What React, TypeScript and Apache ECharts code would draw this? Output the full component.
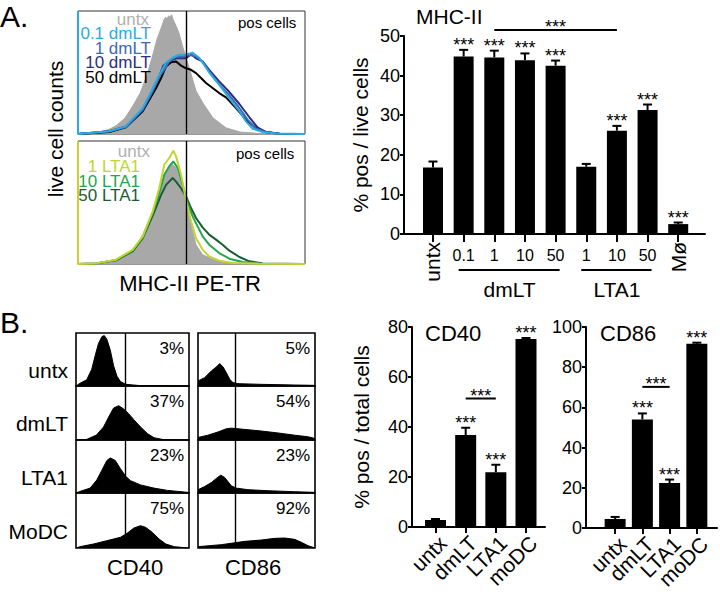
import React, { useEffect, useRef } from "react";
import * as echarts from "echarts";

const FONT = "'Liberation Sans', Arial, Helvetica, sans-serif";

// ===== Panel A: MHC-II PE-TR histograms (x: intensity 0-1000, y: relative count 0-100) =====
const gateMHC = 476;
const aUntxTop = [[0,0],[53,0.4],[97,1.6],[141,4.1],[172,7.3],[207,13],[242,23],[273,33],[304,48],[326,62],[348,77],[366,86],[379,93],[386,95],[392,93.5],[399,96],[405,95],[412,97],[419,93],[432,88],[445,82],[458,73],[476,62],[493,52],[520,35],[551,25],[595,13],[652,5],[714,1.6],[802,0.4],[1000,0]];
const a01dmLT = [[0,100],[0,0],[138,2.2],[211,6.2],[285,21],[329,37],[358,48],[388,58],[417,62],[446,64.5],[476,64.5],[505,66],[534,62],[578,50],[622,40],[667,29],[711,18.5],[740,10.3],[770,4.3],[814,1.6],[872,0.5],[1000,0]];
const a1dmLT = [[0,0],[138,2.2],[211,5.7],[285,19.8],[329,34.7],[358,46.9],[380,52.2],[402,59],[432,63.1],[461,63.1],[490,64.3],[520,63.1],[549,59],[578,50.7],[622,40.6],[667,31.4],[711,21],[747,11.7],[784,4.3],[828,1.4],[887,0.3],[1000,0]];
const a10dmLT = [[0,0],[138,2.2],[211,6.2],[285,19],[344,41.5],[366,50.7],[376,55.6],[402,59],[432,61.6],[476,61.6],[498,64.9],[520,61.6],[549,59],[578,52.2],[622,42.8],[667,34.1],[711,24.4],[755,13.6],[791,5.4],[828,1.6],[887,0.3],[1000,0]];
const a50dmLT = [[0,0],[138,1.6],[211,5.4],[285,18.4],[344,37.4],[366,45.5],[388,54.9],[410,58.4],[432,59],[454,55.6],[476,53.4],[498,52.2],[520,49.5],[542,45.5],[564,41.5],[593,37.4],[622,33.3],[652,29.8],[696,21],[740,11.7],[784,4.9],[828,1.6],[887,0.3],[1000,0]];
const aUntxBottom = [[0,0],[79,0.5],[167,2.7],[241,8.9],[285,23.9],[344,48.2],[373,67],[395,78],[410,82],[417,80.7],[432,78],[446,69.9],[476,52.2],[498,32],[520,15.7],[549,7.6],[608,2.7],[681,0.8],[800,0.3],[1000,0]];
const a1LTA1 = [[0,100],[0,0],[79,0.5],[167,3.5],[241,11.7],[285,22.5],[329,42.8],[358,61.6],[380,80.7],[402,86.2],[420,92.1],[432,87.5],[454,72.5],[476,52.2],[498,34.7],[520,21],[549,11.7],[578,6.2],[622,2.7],[681,0.8],[800,0.3],[1000,0]];
const a10LTA1 = [[0,0],[79,0.5],[167,3.3],[241,10.8],[285,21.7],[329,41.5],[358,57.7],[380,72.5],[402,79.3],[420,83.4],[439,78],[461,64.3],[483,49.5],[505,38.7],[527,30.6],[549,22.5],[578,15.7],[622,8.9],[667,4.3],[725,1.6],[800,0.3],[1000,0]];
const a50LTA1 = [[0,0],[79,0.5],[167,3],[241,10.3],[285,21],[329,39.4],[366,56.2],[388,64.3],[417,69.9],[432,67],[454,61.6],[476,54.9],[498,45.5],[520,37.4],[549,29.8],[578,23.9],[608,19.8],[637,15.7],[667,10.8],[711,5.7],[755,2.2],[814,0.5],[1000,0]];

const aTopLegend = ["untx", "0.1 dmLT", "1 dmLT", "10 dmLT", "50 dmLT"];
const aTopColors = ["#b1b1b1", "#29abe2", "#3e69b3", "#2b2e82", "#000000"];
const aBottomLegend = ["untx", "1 LTA1", "10 LTA1", "50 LTA1"];
const aBottomColors = ["#b1b1b1", "#c3d42e", "#26a64b", "#1a5c34"];

// ===== Panel A: MHC-II bar chart =====
const mhcLabels = ["untx", "0.1", "1", "10", "50", "1", "10", "50", "Mø"];
const mhcMean = [16.8, 44.8, 44.6, 43.9, 42.5, 17.0, 26.1, 31.3, 2.5];
const mhcErr = [1.5, 1.7, 1.7, 1.7, 1.3, 0.7, 1.2, 1.4, 0.4];
const mhcStars = [0, 1, 1, 1, 1, 0, 1, 1, 1];
const mhcGroupNames = ["dmLT", "LTA1"];
const mhcGroupFrom = [1, 5];
const mhcGroupTo = [4, 7];
const mhcBracket = [2, 6, 51.5];

// ===== Panel B: CD40 / CD86 histograms =====
const bRowNames = ["untx", "dmLT", "LTA1", "MoDC"];
const gateCD40 = 434;
const gateCD86 = 320;
const cd40Untx = [[0,0],[36,5.3],[95,12],[139,32],[170,58.7],[199,82],[229,95],[250,97],[273,90],[304,68.7],[333,38.7],[363,18.7],[393,8.7],[438,3.3],[571,0.7],[1000,0]];
const cd40DmLT = [[0,0],[95,1.2],[181,9.3],[244,24.7],[288,43],[333,60.5],[378,64.8],[422,58.6],[467,49.4],[512,38.3],[571,24.7],[631,12.3],[690,4.3],[780,0.5],[1000,0]];
const cd40LTA1 = [[0,0],[36,3.1],[125,9.4],[184,25],[229,43.8],[273,62.5],[304,67.5],[348,62.5],[393,46.9],[438,32.5],[482,23.8],[571,15.6],[690,9.4],[809,5],[958,1.9],[1000,1]];
const cd40MoDC = [[0,0],[36,2.5],[155,7.4],[273,13.6],[393,19.8],[452,27.2],[512,37],[571,41.4],[616,38.3],[675,29],[735,16.7],[795,7.4],[869,2.5],[988,0],[1000,0]];
const cd86Untx = [[0,9.7],[57,16.1],[114,29],[157,36.8],[185,43.2],[214,36.8],[242,25.8],[271,12.9],[299,6.5],[342,4.5],[541,3.2],[826,1.9],[983,1.3],[1000,1]];
const cd86DmLT = [[0,4.8],[85,9.1],[171,15.2],[242,21.2],[285,22.4],[342,21.2],[427,19.4],[541,17],[684,13.3],[826,9.1],[940,6.1],[1000,3]];
const cd86LTA1 = [[0,6.3],[57,12.5],[114,20],[157,28.1],[194,34.4],[228,30],[256,21.9],[285,13.8],[328,9.4],[427,6.3],[598,4.4],[826,2.5],[983,1.3],[1000,1]];
const cd86MoDC = [[0,2.5],[200,6.2],[399,12.3],[541,14.8],[655,17.9],[741,18.5],[826,16],[884,10.5],[940,4.3],[983,1.2],[1000,0.5]];
const cd40Pct = ["3%", "37%", "23%", "75%"];
const cd86Pct = ["5%", "54%", "23%", "92%"];

// ===== Panel B: CD40 / CD86 bar charts =====
const cdLabels = ["untx", "dmLT", "LTA1", "moDC"];
const cd40Mean = [2.8, 36.8, 21.9, 75.2];
const cd40Err = [0.4, 2.9, 3.0, 0.4];
const cd40Stars = [0, 1, 1, 1];
const cd40Bracket = [1, 2, 51.4];
const cd86Mean = [4.5, 54.0, 22.4, 91.7];
const cd86Err = [1.0, 3.0, 1.7, 0.5];
const cd86Stars = [0, 1, 1, 1];
const cd86Bracket = [1, 2, 70.2];

function font(size: number) {
  return `normal ${size}px ${FONT}`;
}

function txt(text: string, x: number, y: number, size: number, opt: any = {}) {
  const align = opt.align || "left";
  const va = opt.va || "middle";
  return {
    type: "text",
    x,
    y,
    rotation: opt.rot || 0,
    silent: true,
    z: 10,
    style: {
      text,
      fill: opt.color || "#000",
      font: font(size),
      align,
      verticalAlign: va,
      textAlign: align,
      textVerticalAlign: va,
    },
  };
}

function buildOption() {
  const grids: any[] = [];
  const xAxes: any[] = [];
  const yAxes: any[] = [];
  const series: any[] = [];
  const graphics: any[] = [];

  const histPanel = (left: number, top: number, width: number, height: number, bw: number, bc: string, ymax: number) => {
    const gi = grids.length;
    grids.push({ left, top, width, height, show: true, borderColor: bc, borderWidth: bw, backgroundColor: "rgba(0,0,0,0)" });
    const xi = xAxes.length;
    xAxes.push({ gridIndex: gi, type: "value", min: 0, max: 1000, show: false });
    const yi = yAxes.length;
    yAxes.push({ gridIndex: gi, type: "value", min: 0, max: ymax, show: false });
    return { xi, yi };
  };

  const histSeries = (ax: any, data: number[][], color: string, width: number, fill?: string, gate?: number) => {
    const s: any = {
      type: "line",
      xAxisIndex: ax.xi,
      yAxisIndex: ax.yi,
      data,
      symbol: "none",
      showSymbol: false,
      silent: true,
      z: 2,
      lineStyle: { color, width },
    };
    if (fill) s.areaStyle = { color: fill, opacity: 1 };
    if (gate !== undefined) {
      s.markLine = {
        silent: true,
        symbol: ["none", "none"],
        label: { show: false },
        lineStyle: { color: "#000", width: 1.4, type: "solid" },
        data: [{ xAxis: gate }],
      };
    }
    return s;
  };

  // ---- Panel A histograms ----
  const aTop = histPanel(78, 11, 227, 123, 1, "#333", 100);
  series.push(histSeries(aTop, aUntxTop, "#a8a8a8", 1, "#a8a8a8", gateMHC));
  series.push(histSeries(aTop, a50dmLT, aTopColors[4], 2));
  series.push(histSeries(aTop, a10dmLT, aTopColors[3], 2));
  series.push(histSeries(aTop, a1dmLT, aTopColors[2], 2));
  series.push(histSeries(aTop, a01dmLT, aTopColors[1], 2));

  const aBot = histPanel(78, 141, 227, 123, 1, "#333", 100);
  series.push(histSeries(aBot, aUntxBottom, "#a8a8a8", 1, "#a8a8a8", gateMHC));
  series.push(histSeries(aBot, a50LTA1, aBottomColors[3], 2));
  series.push(histSeries(aBot, a10LTA1, aBottomColors[2], 2));
  series.push(histSeries(aBot, a1LTA1, aBottomColors[1], 2));

  // ---- Panel B histograms ----
  const rowTops = [333, 386, 440, 493];
  const rowHeights = [53, 54, 53, 55];
  const cd40Rows = [cd40Untx, cd40DmLT, cd40LTA1, cd40MoDC];
  const cd86Rows = [cd86Untx, cd86DmLT, cd86LTA1, cd86MoDC];
  const col40 = { left: 76, width: 113 };
  const col86 = { left: 198, width: 117 };
  for (let r = 0; r < 4; r++) {
    const p40 = histPanel(col40.left, rowTops[r], col40.width, rowHeights[r], 1.6, "#000", 102);
    series.push(histSeries(p40, cd40Rows[r], "#000", 1, "#000", gateCD40));
    const p86 = histPanel(col86.left, rowTops[r], col86.width, rowHeights[r], 1.6, "#000", 102);
    series.push(histSeries(p86, cd86Rows[r], "#000", 1, "#000", gateCD86));
    graphics.push(txt(cd40Pct[r], col40.left + col40.width - 5, rowTops[r] + 15, 17, { align: "right" }));
    graphics.push(txt(cd86Pct[r], col86.left + col86.width - 5, rowTops[r] + 15, 17, { align: "right" }));
    graphics.push(txt(bRowNames[r], 68, rowTops[r] + rowHeights[r] * 0.7, 21, { align: "right" }));
  }

  // ---- shared helpers for bar charts ----
  const axisLineStyle = { color: "#000", width: 2 };
  const errSeries = (xi: number, yi: number, means: number[], errs: number[], stars: number[], cap: number) => ({
    type: "custom",
    xAxisIndex: xi,
    yAxisIndex: yi,
    silent: true,
    z: 4,
    data: means.map((m, i) => [i, m, errs[i]]),
    renderItem: (params: any, api: any) => {
      const i = api.value(0);
      const m = api.value(1);
      const e = api.value(2);
      const top = api.coord([i, m + e]);
      const base = api.coord([i, m]);
      const children: any[] = [
        { type: "line", shape: { x1: top[0], y1: base[1], x2: top[0], y2: top[1] }, style: { stroke: "#000", lineWidth: 2 } },
        { type: "line", shape: { x1: top[0] - cap / 2, y1: top[1], x2: top[0] + cap / 2, y2: top[1] }, style: { stroke: "#000", lineWidth: 2 } },
      ];
      if (stars[params.dataIndex]) {
        children.push({
          type: "text",
          x: top[0],
          y: top[1] - 5,
          style: { text: "***", fill: "#000", font: font(18), align: "center", verticalAlign: "middle", textAlign: "center", textVerticalAlign: "middle" },
        });
      }
      return { type: "group", children };
    },
  });
  const bracketSeries = (xi: number, yi: number, br: number[]) => ({
    type: "custom",
    xAxisIndex: xi,
    yAxisIndex: yi,
    silent: true,
    z: 4,
    clip: false,
    data: [br],
    renderItem: (_p: any, api: any) => {
      const a = api.coord([api.value(0), api.value(2)]);
      const b = api.coord([api.value(1), api.value(2)]);
      return {
        type: "group",
        children: [
          { type: "line", shape: { x1: a[0], y1: a[1], x2: b[0], y2: b[1] }, style: { stroke: "#000", lineWidth: 2 } },
          {
            type: "text",
            x: (a[0] + b[0]) / 2,
            y: a[1] - 3,
            style: { text: "***", fill: "#000", font: font(18), align: "center", verticalAlign: "middle", textAlign: "center", textVerticalAlign: "middle" },
          },
        ],
      };
    },
  });
  // an extra x axis that only carries some of the labels (no line, no ticks)
  const labelOnlyAxis = (gi: number, min: number, max: number, values: number[], labels: string[], label: any) => ({
    gridIndex: gi,
    type: "value",
    min,
    max,
    position: "bottom",
    axisLine: { show: false, onZero: false },
    axisTick: { show: false },
    axisLabel: {
      show: true,
      customValues: values,
      formatter: (v: number) => labels[Math.round(v)] || "",
      showMinLabel: true,
      showMaxLabel: true,
      color: "#000",
      fontFamily: FONT,
      ...label,
    },
    splitLine: { show: false },
  });

  // ---- MHC-II bar chart ----
  const isWord = (l: string) => /[A-Za-zø]/.test(l);
  const mhcIdx = mhcLabels.map((_, i) => i);
  const gM = grids.length;
  grids.push({ left: 404, top: 36, width: 301, height: 198 });
  const mhcMin = -0.946;
  const mhcMax = 8.874;
  const xM = xAxes.length;
  xAxes.push({
    gridIndex: gM,
    type: "value",
    min: mhcMin,
    max: mhcMax,
    position: "bottom",
    axisLine: { show: true, onZero: false, lineStyle: axisLineStyle },
    axisTick: { show: true, customValues: mhcIdx, length: 8, lineStyle: axisLineStyle },
    axisLabel: {
      show: true,
      customValues: mhcIdx.filter((i) => !isWord(mhcLabels[i])),
      formatter: (v: number) => mhcLabels[Math.round(v)] || "",
      showMinLabel: true,
      showMaxLabel: true,
      fontSize: 16,
      margin: 13,
      color: "#000",
      fontFamily: FONT,
    },
    splitLine: { show: false },
  });
  xAxes.push(labelOnlyAxis(gM, mhcMin, mhcMax, mhcIdx.filter((i) => isWord(mhcLabels[i])), mhcLabels, { rotate: 90, fontSize: 21, margin: 8 }));
  const yM = yAxes.length;
  yAxes.push({
    gridIndex: gM,
    type: "value",
    min: 0,
    max: 50,
    interval: 10,
    axisLine: { show: true, onZero: false, lineStyle: axisLineStyle },
    axisTick: { show: true, length: 4, lineStyle: axisLineStyle },
    axisLabel: { fontSize: 18, margin: 4, color: "#000", fontFamily: FONT },
    splitLine: { show: false },
    name: "% pos / live cells",
    nameLocation: "middle",
    nameGap: 33,
    nameTextStyle: { fontSize: 21, color: "#000", fontFamily: FONT },
  });
  series.push({ type: "bar", xAxisIndex: xM, yAxisIndex: yM, data: mhcMean.map((v, i) => [i, v]), barWidth: 20, itemStyle: { color: "#000" }, silent: true, z: 3 });
  series.push(errSeries(xM, yM, mhcMean, mhcErr, mhcStars, 9));
  series.push(bracketSeries(xM, yM, mhcBracket));
  series.push({
    type: "custom",
    xAxisIndex: xM,
    yAxisIndex: yM,
    silent: true,
    clip: false,
    z: 4,
    data: mhcGroupFrom.map((f, i) => [f, mhcGroupTo[i]]),
    renderItem: (params: any, api: any) => {
      const a = api.coord([api.value(0), 0]);
      const b = api.coord([api.value(1), 0]);
      const y = a[1] + 36;
      return {
        type: "group",
        children: [
          { type: "line", shape: { x1: a[0] - 5, y1: y, x2: b[0] + 4, y2: y }, style: { stroke: "#000", lineWidth: 2 } },
          {
            type: "text",
            x: (a[0] + b[0]) / 2,
            y: y + 19,
            style: { text: mhcGroupNames[params.dataIndex], fill: "#000", font: font(21), align: "center", verticalAlign: "middle", textAlign: "center", textVerticalAlign: "middle" },
          },
        ],
      };
    },
  });

  // ---- CD40 / CD86 bar charts ----
  const cdIdx = cdLabels.map((_, i) => i);
  const cdLabelStyle = { rotate: 45, verticalAlign: "top", fontSize: 21, margin: 5, hideOverlap: false };
  const cdChart = (left: number, width: number, height: number, min: number, max: number, ymax: number, means: number[], errs: number[], stars: number[], br: number[], name?: string) => {
    const gi = grids.length;
    grids.push({ left, top: 327, width, height });
    const xi = xAxes.length;
    xAxes.push({
      gridIndex: gi,
      type: "value",
      min,
      max,
      position: "bottom",
      axisLine: { show: true, onZero: false, lineStyle: axisLineStyle },
      axisTick: { show: true, customValues: cdIdx, length: 6, lineStyle: axisLineStyle },
      axisLabel: { show: false },
      splitLine: { show: false },
    });
    // labels split over two label-only axes so that none is dropped for overlapping
    xAxes.push(labelOnlyAxis(gi, min, max, cdIdx.filter((i) => i % 2 === 0), cdLabels, cdLabelStyle));
    xAxes.push(labelOnlyAxis(gi, min, max, cdIdx.filter((i) => i % 2 === 1), cdLabels, cdLabelStyle));
    const yi = yAxes.length;
    const y: any = {
      gridIndex: gi,
      type: "value",
      min: 0,
      max: ymax,
      interval: 20,
      axisLine: { show: true, onZero: false, lineStyle: axisLineStyle },
      axisTick: { show: true, length: 4, lineStyle: axisLineStyle },
      axisLabel: { fontSize: 18, margin: 4, color: "#000", fontFamily: FONT },
      splitLine: { show: false },
    };
    if (name) {
      y.name = name;
      y.nameLocation = "middle";
      y.nameGap = 40;
      y.nameTextStyle = { fontSize: 21, color: "#000", fontFamily: FONT };
    }
    yAxes.push(y);
    series.push({ type: "bar", xAxisIndex: xi, yAxisIndex: yi, data: means.map((v, i) => [i, v]), barWidth: 21, itemStyle: { color: "#000" }, silent: true, z: 3 });
    series.push(errSeries(xi, yi, means, errs, stars, 9));
    series.push(bracketSeries(xi, yi, br));
  };
  cdChart(412, 133, 200, -0.78, 3.63, 80, cd40Mean, cd40Err, cd40Stars, cd40Bracket, "% pos / total cells");
  cdChart(586, 131, 201, -1.07, 3.74, 100, cd86Mean, cd86Err, cd86Stars, cd86Bracket);

  // ---- texts ----
  graphics.push(txt("A.", 0, 16, 30));
  graphics.push(txt("B.", 0, 322, 30));
  graphics.push(txt("live cell counts", 55, 129, 21, { align: "center", rot: Math.PI / 2 }));
  graphics.push(txt("MHC-II PE-TR", 190, 283, 22, { align: "center" }));
  const topLegendY = [19, 33.5, 48, 62.5, 77];
  aTopLegend.forEach((t, i) => graphics.push(txt(t, i === 0 ? 149 : 151, topLegendY[i], 17, { align: "right", color: aTopColors[i] })));
  const botLegendY = [151, 166, 181, 195];
  aBottomLegend.forEach((t, i) => graphics.push(txt(t, i === 0 ? 150 : 140, botLegendY[i], 17, { align: "right", color: aBottomColors[i] })));
  graphics.push(txt("pos cells", 238, 22, 15));
  graphics.push(txt("pos cells", 236, 153, 15));
  graphics.push(txt("MHC-II", 416, 16, 21));
  graphics.push(txt("CD40", 135, 567, 22, { align: "center" }));
  graphics.push(txt("CD86", 253, 567, 22, { align: "center" }));
  graphics.push(txt("CD40", 425, 333, 22));
  graphics.push(txt("CD86", 600, 333, 22));

  return {
    animation: false,
    backgroundColor: "#fff",
    textStyle: { fontFamily: FONT, color: "#000" },
    grid: grids,
    xAxis: xAxes,
    yAxis: yAxes,
    series,
    graphic: graphics,
  };
}

export default function App() {
  const ref = useRef<HTMLDivElement>(null);
  useEffect(() => {
    if (!ref.current) return;
    const chart = echarts.init(ref.current, undefined, { renderer: "svg" });
    chart.setOption(buildOption() as any);
    return () => chart.dispose();
  }, []);
  return <div ref={ref} style={{ position: "fixed", left: 0, top: 0, width: 720, height: 594, background: "#fff" }} />;
}
